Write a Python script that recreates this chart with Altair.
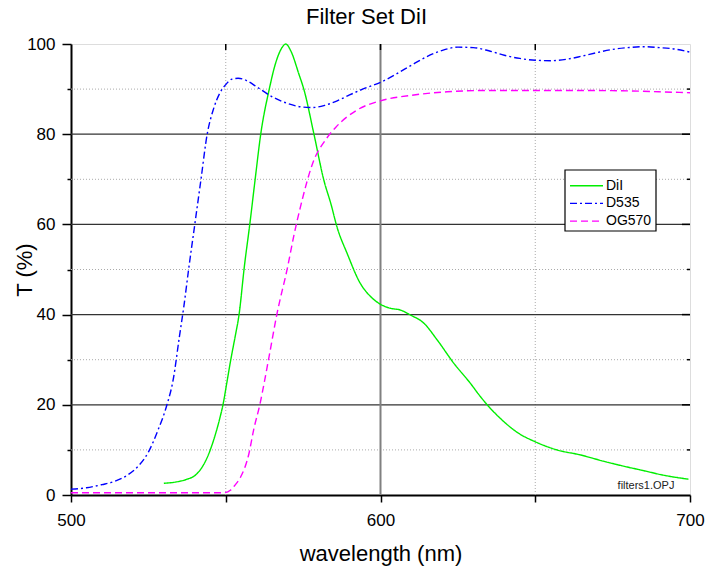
import altair as alt
import pandas as pd

# ---------------- data ----------------
d535_wl = [500, 505, 510, 514, 518, 522, 525, 528, 531, 533, 535, 536.5, 538, 540, 542, 544, 546, 548, 550, 552,
           554, 557, 560, 565, 570, 574, 578, 582, 586, 590, 595, 600, 605, 610, 615, 620, 625, 630, 635, 640,
           645, 650, 655, 660, 665, 670, 675, 680, 685, 690, 695, 700]
d535_t = [1.3, 1.6, 2.3, 3.0, 4.3, 6.6, 9.5, 14.2, 20, 25.5, 35, 42, 50, 60, 70, 80, 85.5, 89, 91, 92.2,
          92.4, 91.8, 90.5, 88.3, 86.8, 86.1, 85.9, 86.4, 87.4, 88.7, 90.2, 91.5, 93.3, 95.3, 97.2, 98.6, 99.3, 99.2, 98.5, 97.5,
          96.8, 96.4, 96.3, 96.6, 97.3, 98.1, 98.8, 99.2, 99.4, 99.2, 98.9, 98.2]

dii_wl = [530, 534, 537.5, 540, 542, 544, 546, 548, 549.1, 550.5, 551.6, 553, 554.3, 556, 557.8, 559.5, 561.3, 564, 566, 568, 569.4,
          571, 573.6, 575.3, 578.5, 581.7, 584, 586, 589.2, 593.5, 596.8, 600.5, 603.2, 606.5, 609.7, 614, 618.3, 623.7, 629, 632.3, 635,
          638.7, 644.6, 650, 657, 664.5, 672, 678.5, 685, 691.4, 699.5]
dii_t = [2.6, 2.9, 3.5, 4.3, 5.8, 8.3, 12.0, 16.8, 20, 25.5, 29.9, 35, 40, 50.6, 60.2, 70, 80, 89.8, 95.5, 99, 100,
         98.5, 93.4, 89.8, 80, 69.8, 64.5, 59.3, 53.6, 46.9, 44, 42.1, 41.4, 41, 39.9, 38.1, 34.4, 29.2, 24.8, 21.8, 19.6,
         17, 13.7, 11.8, 10, 8.9, 7.5, 6.4, 5.4, 4.4, 3.5]

og_wl = [500, 510, 520, 530, 540, 549.4, 551.6, 553, 554.8, 557.5, 559, 561, 564, 566.5, 570, 572, 574, 578.5, 582, 585.5,
         592.5, 600, 610.8, 621.5, 635, 650, 665, 680, 690, 700]
og_t = [0.5, 0.5, 0.5, 0.5, 0.5, 0.5, 1.1, 2.2, 4, 9.2, 14.4, 20, 30.7, 40, 50.6, 57.5, 63.5, 74.3, 78.5, 81.5,
        85.4, 87.4, 88.7, 89.4, 89.7, 89.7, 89.7, 89.6, 89.4, 89.2]

series_names = ["DiI", "D535", "OG570"]
series_colors = ["#00ee00", "#0000ff", "#ff00ff"]
series_dash = [[1, 0], [7, 3, 2, 3], [7, 4]]

y_major = [20, 40, 60, 80]
y_minor = [10, 30, 50, 70, 90]
x_major = [600]
x_minor = [550, 650]
x_ticks = [550, 600, 650]

FONT = "Liberation Sans"
W, H = 619, 451

rows = []
for name, wl, t in [("DiI", dii_wl, dii_t), ("D535", d535_wl, d535_t), ("OG570", og_wl, og_t)]:
    for a, b in zip(wl, t):
        rows.append({"series": name, "wl": a, "t": b})
df = pd.DataFrame(rows)

xs = alt.Scale(domain=[500, 700], nice=False, zero=False)
ys = alt.Scale(domain=[0, 100], nice=False)
color_scale = alt.Scale(domain=series_names, range=series_colors)
dash_scale = alt.Scale(domain=series_names, range=series_dash)

x_axis = alt.Axis(
    values=[500, 550, 600, 650, 700],
    labelExpr="datum.value % 100 == 0 ? datum.label : ''",
    labelFlush=False, labelOverlap=False,
    grid=False, domain=True, domainColor="black", domainWidth=2,
    tickColor="black", tickWidth=1.5, tickSize=7,
    labelFont=FONT, labelFontSize=17, labelColor="black", labelPadding=10,
    title="wavelength (nm)", titleFont=FONT, titleFontSize=22, titleFontWeight="normal",
    titleColor="black", titleY=65, titleBaseline="alphabetic",
)
y_axis = alt.Axis(
    values=list(range(0, 101, 10)),
    labelExpr="datum.value % 20 == 0 ? datum.label : ''",
    labelFlush=False, labelOverlap=False,
    grid=False, domain=True, domainColor="black", domainWidth=2,
    tickColor="black", tickWidth=1.5,
    tickSize={"condition": {"test": "datum.value % 20 == 0", "value": 9}, "value": 4},
    labelFont=FONT, labelFontSize=17, labelColor="black", labelPadding=7,
    title="T (%)", titleFont=FONT, titleFontSize=22, titleFontWeight="normal", titleColor="black",
    titleX=-47, titleY=H / 2, titleAngle=270, titleAlign="center", titleBaseline="middle",
)


def X(field):
    return alt.X(field, scale=xs, axis=x_axis)


def Y(field):
    return alt.Y(field, scale=ys, axis=y_axis)


grid_minor_y = alt.Chart(pd.DataFrame({"v": y_minor})).mark_rule(
    color="#aaaaaa", strokeDash=[1, 2], strokeWidth=1).encode(y=Y("v:Q"))
grid_major_y = alt.Chart(pd.DataFrame({"v": y_major})).mark_rule(
    color="#333333", strokeWidth=1.3).encode(y=Y("v:Q"))
grid_minor_x = alt.Chart(pd.DataFrame({"v": x_minor})).mark_rule(
    color="#aaaaaa", strokeDash=[1, 2], strokeWidth=1).encode(x=X("v:Q"))
grid_major_x = alt.Chart(pd.DataFrame({"v": x_major})).mark_rule(
    color="#808080", strokeWidth=2).encode(x=X("v:Q"))

lines = alt.Chart(df).mark_line(strokeWidth=1.4, interpolate="monotone").encode(
    x=X("wl:Q"),
    y=Y("t:Q"),
    color=alt.Color("series:N", scale=color_scale, legend=None),
    strokeDash=alt.StrokeDash("series:N", scale=dash_scale, legend=None),
)

right_major = alt.Chart(pd.DataFrame({"v": y_major})).mark_rule(color="black", strokeWidth=1.5).encode(
    y=Y("v:Q"), x=alt.value(W - 8), x2=alt.value(W))
right_minor = alt.Chart(pd.DataFrame({"v": y_minor})).mark_rule(color="black", strokeWidth=1.5).encode(
    y=Y("v:Q"), x=alt.value(W - 3), x2=alt.value(W))
top_ticks = alt.Chart(pd.DataFrame({"v": x_ticks})).mark_rule(color="black", strokeWidth=1.5).encode(
    x=X("v:Q"), y=alt.value(0), y2=alt.value(6))

note = alt.Chart(pd.DataFrame({"txt": ["filters1.OPJ"]})).mark_text(
    font=FONT, fontSize=11, color="#222222", align="center", baseline="middle").encode(
    x=alt.value(575), y=alt.value(441.5), text="txt:N")

# ---- legend box (drawn by hand so that its size matches) ----
LX0, LX1, LY0, LY1 = 494, 585, 126, 187
legend_layers = [
    alt.Chart(pd.DataFrame({"k": [0]})).mark_rect(fill="white", stroke="black", strokeWidth=1.2).encode(
        x=alt.value(LX0), x2=alt.value(LX1), y=alt.value(LY0), y2=alt.value(LY1))
]
for i, name in enumerate(series_names):
    yy = 141.7 + i * 17.7
    ldf = pd.DataFrame({"series": [name]})
    legend_layers.append(
        alt.Chart(ldf).mark_rule(strokeWidth=1.4).encode(
            x=alt.value(499), x2=alt.value(532), y=alt.value(yy),
            color=alt.Color("series:N", scale=color_scale, legend=None),
            strokeDash=alt.StrokeDash("series:N", scale=dash_scale, legend=None),
        )
    )
    legend_layers.append(
        alt.Chart(ldf).mark_text(font=FONT, fontSize=14, color="black", align="left", baseline="middle").encode(
            x=alt.value(535), y=alt.value(yy), text="series:N")
    )

chart = alt.layer(
    grid_minor_y, grid_minor_x, grid_major_y, grid_major_x, lines,
    right_major, right_minor, top_ticks, note, *legend_layers,
).properties(
    width=W, height=H,
    title=alt.TitleParams("Filter Set DiI", font=FONT, fontSize=22, fontWeight="normal", color="black",
                          anchor="middle", dx=-14, offset=6),
    autosize=alt.AutoSizeParams(type="none"),
    padding={"left": 71, "top": 44, "right": 15, "bottom": 73},
).configure_view(stroke="black", strokeWidth=2).configure(background="white")

chart.save("out.html", embed_options={"renderer": "svg", "actions": False})
